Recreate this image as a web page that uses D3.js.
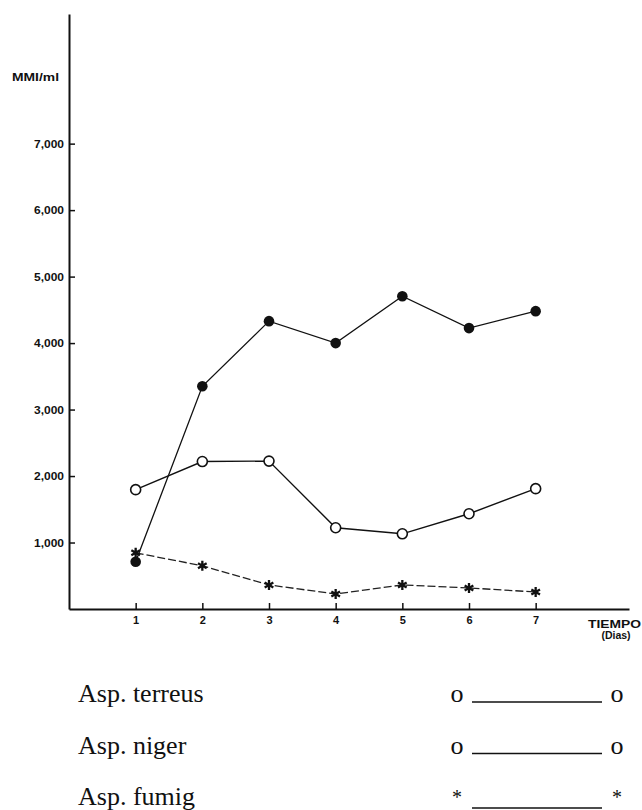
<!DOCTYPE html>
<html>
<head>
<meta charset="utf-8">
<script src="https://cdn.jsdelivr.net/npm/d3@7/dist/d3.min.js"></script>
<style>
  html, body { margin: 0; padding: 0; background: #fff; }
  svg { display: block; }
</style>
</head>
<body>
<svg id="chart" width="642" height="810"></svg>
<script>
// ---- data ----
const days = [1, 2, 3, 4, 5, 6, 7];
const yTicks = [1000, 2000, 3000, 4000, 5000, 6000, 7000];
const yTickLabels = ["1,000", "2,000", "3,000", "4,000", "5,000", "6,000", "7,000"];
const nigerValues   = [710, 3350, 4330, 4000, 4705, 4225, 4480];   // filled circles
const terreusValues = [1795, 2218, 2225, 1222, 1131, 1433, 1810];  // open circles
const fumigValues   = [845, 650, 362, 226, 362, 317, 256];         // asterisks, dashed
const legendNames   = ["Asp. terreus", "Asp. niger", "Asp. fumig"];
const legendSymbols = ["o", "o", "*"];
const yAxisTitle = "MMI/ml";
const xAxisTitle = "TIEMPO";
const xAxisSub = "(Dias)";

// ---- scales ----
const svg = d3.select("#chart");
const x = d3.scaleLinear().domain([0, 8.4]).range([69, 629]);
const y = d3.scaleLinear().domain([0, 8950]).range([609, 14]);

const axisFont = "Liberation Sans, Arial, Helvetica, sans-serif";

// y axis
const yAxis = d3.axisLeft(y).tickValues(yTicks)
  .tickFormat((d, i) => yTickLabels[i])
  .tickSizeInner(-6).tickSizeOuter(0).tickPadding(5);
const gy = svg.append("g").attr("transform", `translate(${x(0)},0)`).call(yAxis);
gy.select(".domain").attr("stroke", "#111").attr("stroke-width", 2);
gy.selectAll(".tick line").attr("stroke", "#111").attr("stroke-width", 1.5);
gy.selectAll(".tick text").attr("font-family", axisFont).attr("font-weight", "bold")
  .attr("font-size", 11).attr("fill", "#111").attr("textLength", 30)
  .attr("lengthAdjust", "spacingAndGlyphs");

// x axis
const xAxis = d3.axisBottom(x).tickValues(days)
  .tickSizeInner(-6).tickSizeOuter(0).tickPadding(7);
const gx = svg.append("g").attr("transform", `translate(0,${y(0)})`).call(xAxis);
gx.select(".domain").attr("stroke", "#111").attr("stroke-width", 2);
gx.selectAll(".tick line").attr("stroke", "#111").attr("stroke-width", 1.5);
gx.selectAll(".tick text").attr("font-family", axisFont).attr("font-weight", "bold")
  .attr("font-size", 11).attr("fill", "#111");

// axis titles
svg.append("text").attr("x", 12).attr("y", 81)
  .attr("font-family", axisFont).attr("font-weight", "bold").attr("font-size", 10.5)
  .attr("textLength", 47).attr("lengthAdjust", "spacingAndGlyphs")
  .attr("fill", "#111").text(yAxisTitle);
svg.append("text").attr("x", 588).attr("y", 628)
  .attr("font-family", axisFont).attr("font-weight", "bold").attr("font-size", 11.5)
  .attr("textLength", 53).attr("lengthAdjust", "spacingAndGlyphs")
  .attr("fill", "#111").text(xAxisTitle);
svg.append("text").attr("x", 616).attr("y", 639).attr("text-anchor", "middle")
  .attr("font-family", axisFont).attr("font-weight", "bold").attr("font-size", 10.5)
  .attr("fill", "#111").text(xAxisSub);

// ---- lines ----
const line = d3.line().x((d, i) => x(days[i])).y(d => y(d));

svg.append("path").datum(fumigValues).attr("d", line)
  .attr("fill", "none").attr("stroke", "#222").attr("stroke-width", 1.3)
  .attr("stroke-dasharray", "8,3");
svg.append("path").datum(terreusValues).attr("d", line)
  .attr("fill", "none").attr("stroke", "#111").attr("stroke-width", 1.4);
svg.append("path").datum(nigerValues).attr("d", line)
  .attr("fill", "none").attr("stroke", "#111").attr("stroke-width", 1.3);

// markers
svg.append("g").selectAll("circle").data(nigerValues).join("circle")
  .attr("cx", (d, i) => x(days[i])).attr("cy", d => y(d)).attr("r", 5.3)
  .attr("fill", "#111");
svg.append("g").selectAll("circle").data(terreusValues).join("circle")
  .attr("cx", (d, i) => x(days[i])).attr("cy", d => y(d)).attr("r", 5)
  .attr("fill", "#fff").attr("stroke", "#111").attr("stroke-width", 1.6);
const starType = d3.symbolAsterisk || d3.symbolCross;
const star = d3.symbol().type(starType).size(70);
svg.append("g").selectAll("path").data(fumigValues).join("path")
  .attr("transform", (d, i) => `translate(${x(days[i])},${y(d)})`)
  .attr("d", star)
  .attr("fill", d3.symbolAsterisk ? "none" : "#111")
  .attr("stroke", "#111").attr("stroke-width", 2.3);

// ---- legend ----
const legendFont = "Liberation Serif, Times New Roman, serif";
const legendY = d3.scalePoint().domain(legendNames).range([702, 805]);
const lg = svg.append("g");
legendNames.forEach((name, i) => {
  const by = legendY(name);
  const isStar = legendSymbols[i] === "*";
  lg.append("text").attr("x", 78).attr("y", by)
    .attr("font-family", legendFont).attr("font-size", 26).attr("fill", "#111").text(name);
  [457, 617].forEach(sx => {
    lg.append("text").attr("x", sx).attr("y", by + (isStar ? -1 : 0))
      .attr("text-anchor", "middle")
      .attr("font-family", legendFont).attr("font-size", isStar ? 20 : 26)
      .attr("fill", "#111").text(legendSymbols[i]);
  });
  lg.append("line").attr("x1", 472).attr("x2", 602)
    .attr("y1", by + (isStar ? 3 : 0)).attr("y2", by + (isStar ? 3 : 0))
    .attr("stroke", "#111").attr("stroke-width", 1.6);
});
</script>
</body>
</html>
